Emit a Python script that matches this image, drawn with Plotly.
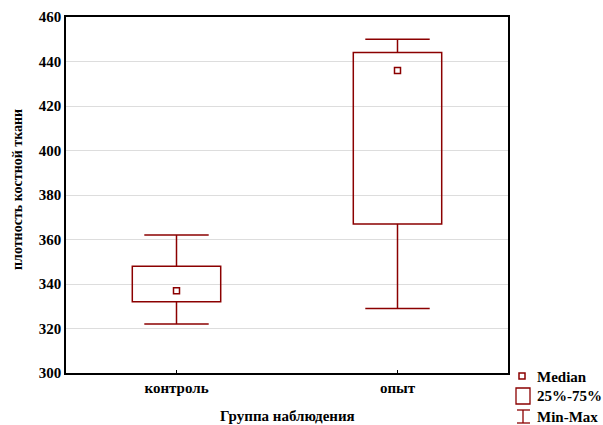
import plotly.graph_objects as go

categories = ["контроль", "опыт"]
mins = [322, 329]
q1s = [332, 367]
medians = [337, 436]
q3s = [348, 444]
maxs = [362, 450]
y_ticks = [300, 320, 340, 360, 380, 400, 420, 440, 460]
legend_labels = ["Median", "25%-75%", "Min-Max"]

RED = "#8B0000"
FONT = "Liberation Serif"

W, H = 603, 425
L, R, T, B = 66, 508, 17, 373  # plot area in pixels

fig = go.Figure()

# 25%-75% boxes
fig.add_trace(go.Bar(
    x=categories, y=[b - a for a, b in zip(q1s, q3s)], base=q1s,
    width=0.4, marker=dict(color="rgba(255,255,255,0)", line=dict(color=RED, width=1.5)),
    showlegend=False, hoverinfo="skip"))

# upper whiskers (q3 -> max) with caps at max
fig.add_trace(go.Scatter(
    x=categories, y=maxs, mode="markers",
    marker=dict(symbol="line-ew-open", size=46, color=RED, line=dict(width=1.5, color=RED)),
    error_y=dict(type="data", symmetric=False, array=[0, 0],
                 arrayminus=[b - a for a, b in zip(q3s, maxs)], color=RED, thickness=1.5, width=0),
    showlegend=False, hoverinfo="skip"))

# lower whiskers (q1 -> min) with caps at min
fig.add_trace(go.Scatter(
    x=categories, y=mins, mode="markers",
    marker=dict(symbol="line-ew-open", size=46, color=RED, line=dict(width=1.5, color=RED)),
    error_y=dict(type="data", symmetric=False, arrayminus=[0, 0],
                 array=[a - b for a, b in zip(q1s, mins)], color=RED, thickness=1.5, width=0),
    showlegend=False, hoverinfo="skip"))

# medians
fig.add_trace(go.Scatter(
    x=categories, y=medians, mode="markers",
    marker=dict(symbol="square-open", size=6, color=RED, line=dict(width=1.5, color=RED)),
    showlegend=False, hoverinfo="skip"))


def px(x):
    return (x - L) / (R - L)


def py(y):
    return (B - y) / (B - T)


shapes = []
# Median square
shapes.append(dict(type="rect", xref="paper", yref="paper",
                   x0=px(519), x1=px(525), y0=py(379), y1=py(373),
                   line=dict(color=RED, width=1.5)))
# 25-75 box
shapes.append(dict(type="rect", xref="paper", yref="paper",
                   x0=px(516), x1=px(530), y0=py(404), y1=py(388),
                   line=dict(color=RED, width=1.3)))
# Min-Max symbol
shapes.append(dict(type="line", xref="paper", yref="paper",
                   x0=px(523), x1=px(523), y0=py(423), y1=py(410),
                   line=dict(color=RED, width=1.3)))
shapes.append(dict(type="line", xref="paper", yref="paper",
                   x0=px(517), x1=px(530), y0=py(410), y1=py(410),
                   line=dict(color=RED, width=1.3)))
shapes.append(dict(type="line", xref="paper", yref="paper",
                   x0=px(517), x1=px(530), y0=py(423), y1=py(423),
                   line=dict(color=RED, width=1.3)))

annotations = []
for txt, yy in zip(legend_labels, [377, 396, 417]):
    annotations.append(dict(text=txt, xref="paper", yref="paper", x=px(535), y=py(yy),
                            xanchor="left", yanchor="middle", showarrow=False,
                            font=dict(family=FONT, size=15, color="black", weight="bold")))

# axis titles
annotations.append(dict(text="Группа наблюдения", xref="paper", yref="paper",
                        x=px(287), y=py(416), xanchor="center", yanchor="middle",
                        showarrow=False,
                        font=dict(family=FONT, size=15, color="black", weight="bold")))
annotations.append(dict(text="плотность костной ткани", xref="paper", yref="paper",
                        x=px(17), y=py(190), xanchor="center", yanchor="middle",
                        textangle=-90, showarrow=False,
                        font=dict(family=FONT, size=14, color="black", weight="bold")))

fig.update_layout(
    width=W, height=H,
    margin=dict(l=L, r=W - R, t=T, b=H - B, autoexpand=False),
    plot_bgcolor="white", paper_bgcolor="white",
    showlegend=False,
    shapes=shapes, annotations=annotations,
    font=dict(family=FONT, color="black"),
    xaxis=dict(
        range=[-0.5, 1.5], showline=True, linecolor="black", linewidth=1.5, mirror=True,
        ticks="inside", ticklen=3, tickcolor="black", showgrid=False,
        tickfont=dict(family=FONT, size=15, color="black", weight="bold"),
    ),
    yaxis=dict(
        range=[300, 460], tickvals=y_ticks, showline=True, linecolor="black", linewidth=1.5,
        mirror=True, ticks="", showgrid=True, gridcolor="#DDDDDD", gridwidth=1, zeroline=False,
        tickfont=dict(family=FONT, size=15, color="black", weight="bold"),
    ),
)

fig.write_html("out.html", config={"displayModeBar": False},
               post_script="document.body.style.margin='0';")
